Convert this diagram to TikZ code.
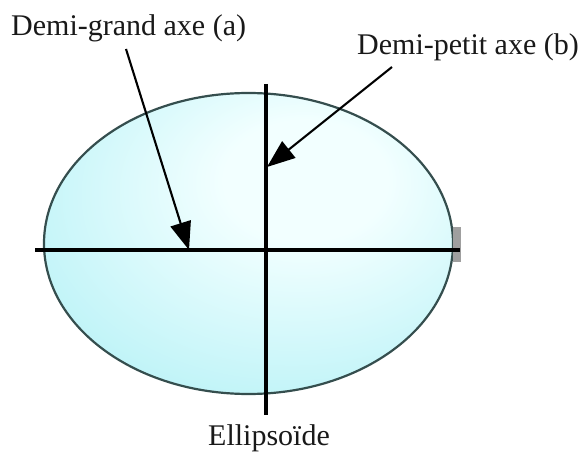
\documentclass[tikz,border=0pt]{standalone}
\usepackage{fontspec}
\setmainfont{Liberation Serif}
\usetikzlibrary{arrows.meta}
\definecolor{ellin}{HTML}{F2FFFF}
\definecolor{ellout}{HTML}{A6EEF4}
\definecolor{ellline}{HTML}{354E4E}
\pgfdeclareradialshading{ellshade}{\pgfpoint{8bp}{12bp}}{color(0bp)=(ellin); color(10bp)=(ellin); color(46bp)=(ellout); color(80bp)=(ellout)}
\tikzset{
  lbl/.style={font=\fontsize{30}{36}\selectfont, inner sep=0pt, text=black!90},
  axisline/.style={line width=3.2pt, black},
  pointer/.style={line width=2.1pt, black, -{Triangle[length=28pt, width=21pt]}, shorten >=0pt}
}
\begin{document}
\begin{tikzpicture}[x=1pt,y=-1pt]
\useasboundingbox (0,0) rectangle (581,454);
% ellipse body
\path[shading=ellshade] (248.5,243.5) ellipse [x radius=204.5, y radius=150.5];
\draw[ellline, line width=2.2pt] (248.5,243.5) ellipse [x radius=204.5, y radius=150.5];
% small grey mark at right end
\fill[gray!75] (453,227) rectangle (461,262);
% axes
\coordinate (hl) at (35,250);
\coordinate (hr) at (460,250);
\coordinate (vt) at (266,84);
\coordinate (vb) at (266,415);
\draw[axisline] (hl) -- (hr);
\draw[axisline] (vt) -- (vb);
% labels
\node[lbl, anchor=base west] (ta) at (11,36) {Demi-grand axe (a)};
\node[lbl, anchor=base west] (tb) at (357,55) {Demi-petit axe (b)};
\node[lbl, anchor=base] (tc) at (269,445) {Ellipsoïde};
% pointers
\coordinate (as) at (126,49);
\coordinate (at) at (189,250);
\coordinate (bs) at (392,67);
\coordinate (bt) at (267,167);
\draw[pointer] (as) -- (at);
\draw[pointer] (bs) -- (bt);
\end{tikzpicture}
\end{document}
